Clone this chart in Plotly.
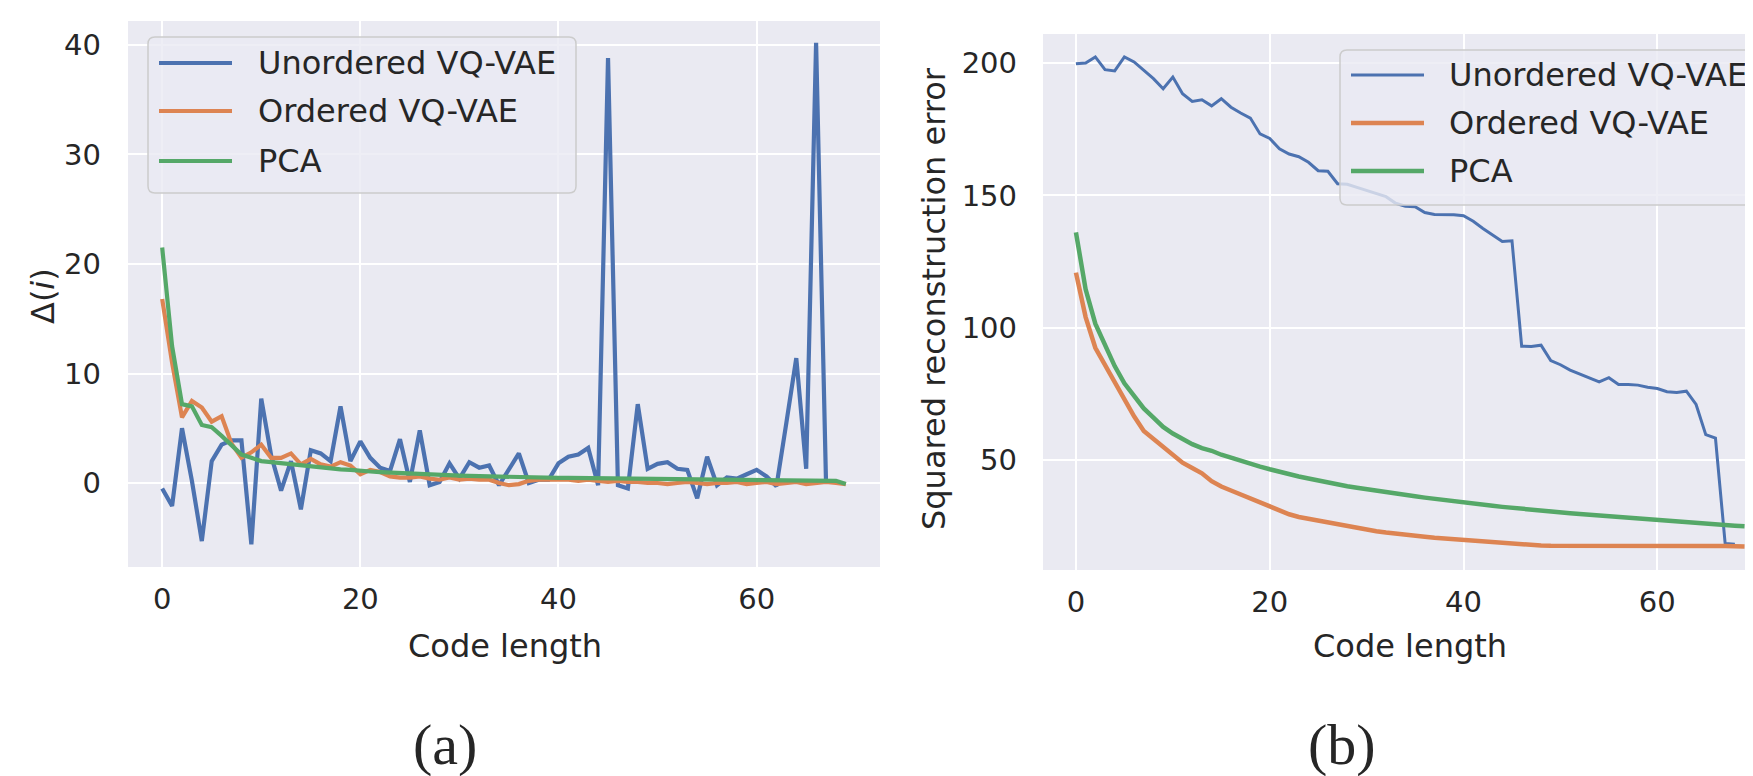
import plotly.graph_objects as go

W, H = 1753, 776

# ---------------- data ----------------
code_length = list(range(70))
code_length_unordered = list(range(68))
code_length_unordered_err = list(range(69))

delta_unordered = [-0.5, -2.1, 5.0, 0.2, -5.3, 2.0, 3.5, 3.9, 3.9, -5.6,
                   7.7, 2.5, -0.7, 2.0, -2.4, 3.0, 2.7, 2.0, 7.0, 2.0,
                   3.8, 2.3, 1.4, 1.1, 4.0, 0.1, 4.8, -0.2, 0.1, 1.8,
                   0.4, 1.9, 1.4, 1.6, -0.2, 1.3, 2.7, 0.0, 0.3, 0.3,
                   1.8, 2.4, 2.6, 3.2, -0.2, 38.8, -0.2, -0.5, 7.2, 1.3,
                   1.75, 1.9, 1.3, 1.2, -1.4, 2.4, -0.2, 0.5, 0.4, 0.8,
                   1.2, 0.6, -0.3, 5.5, 11.4, 1.3, 40.2, 0.1]

delta_ordered = [16.8, 11.0, 6.0, 7.5, 6.9, 5.6, 6.1, 3.6, 2.3, 2.8,
                 3.5, 2.3, 2.3, 2.7, 1.7, 2.2, 1.7, 1.5, 1.9, 1.6,
                 0.8, 1.2, 1.0, 0.6, 0.5, 0.5, 0.6, 0.4, 0.3, 0.5,
                 0.3, 0.4, 0.3, 0.3, 0.0, -0.2, -0.1, 0.2, 0.3, 0.3,
                 0.3, 0.3, 0.2, 0.3, 0.2, 0.1, 0.2, 0.1, 0.1, 0.0,
                 0.0, -0.1, 0.0, 0.1, 0.0, -0.1, 0.0, 0.0, 0.1, -0.1,
                 0.0, 0.1, -0.1, 0.0, 0.1, -0.1, 0.0, 0.1, 0.0, -0.1]

delta_pca = [21.5, 12.5, 7.2, 7.0, 5.3, 5.1, 4.3, 3.4, 2.6, 2.3,
             2.0, 1.9, 1.8, 1.7, 1.6, 1.5, 1.4, 1.3, 1.25, 1.2,
             1.1, 1.05, 1.0, 0.95, 0.9, 0.85, 0.8, 0.78, 0.75, 0.7,
             0.68, 0.65, 0.62, 0.6, 0.58, 0.55, 0.53, 0.52, 0.5, 0.49,
             0.47, 0.46, 0.45, 0.44, 0.43, 0.42, 0.41, 0.4, 0.39, 0.38,
             0.37, 0.36, 0.35, 0.35, 0.34, 0.33, 0.32, 0.32, 0.31, 0.3,
             0.3, 0.29, 0.28, 0.28, 0.27, 0.26, 0.26, 0.25, 0.2, -0.1]

err_unordered = [199.7, 200.0, 202.3, 197.5, 197.0, 202.3, 200.4, 197.2, 194.1, 190.3,
                 194.7, 188.4, 185.5, 186.1, 183.8, 186.5, 183.3, 181.1, 179.2, 173.2,
                 171.5, 167.6, 165.6, 164.6, 162.5, 159.3, 159.1, 154.4, 154.2, 153.0,
                 151.8, 150.8, 149.5, 147.0, 145.9, 145.7, 143.5, 142.8, 142.7, 142.7,
                 142.3, 140.2, 137.5, 135.0, 132.6, 132.8, 93.0, 92.9, 93.4, 87.6,
                 86.0, 84.0, 82.5, 80.8, 79.5, 81.1, 78.5, 78.5, 78.3, 77.5,
                 77.0, 75.8, 75.5, 76.0, 71.0, 59.6, 58.3, 18.5, 18.2]

err_ordered = [120.8, 104.0, 92.4, 86.0, 79.0, 73.0, 66.5, 61.0, 58.0, 55.0,
               52.0, 49.0, 47.0, 45.0, 42.0, 40.0, 38.5, 37.0, 35.5, 34.0,
               32.3, 31.0, 29.5, 28.5, 27.8, 27.0, 26.3, 25.5, 24.9, 24.3,
               23.7, 23.1, 22.6, 22.1, 21.7, 21.4, 21.0, 20.6, 20.3, 20.0,
               19.7, 19.4, 19.1, 18.8, 18.5, 18.3, 18.0, 17.8, 17.7, 17.6,
               17.6, 17.6, 17.5, 17.6, 17.6, 17.7, 17.6, 17.7, 17.8, 17.8,
               17.9, 17.8, 17.8, 17.7, 17.6, 17.6, 17.5, 17.5, 17.4, 17.3]

err_pca = [136.0, 114.5, 101.5, 93.0, 85.5, 79.0, 74.0, 69.5, 66.0, 62.5,
           60.0, 57.8, 56.0, 54.5, 53.5, 52.0, 50.8, 49.7, 48.6, 47.5,
           46.5, 45.5, 44.6, 43.8, 43.0, 42.2, 41.4, 40.8, 40.1, 39.5,
           38.9, 38.3, 37.8, 37.3, 36.8, 36.3, 35.8, 35.3, 34.8, 34.3,
           33.9, 33.5, 33.1, 32.7, 32.3, 31.9, 31.6, 31.2, 30.9, 30.5,
           30.2, 29.9, 29.6, 29.3, 29.0, 28.7, 28.4, 28.1, 27.8, 27.6,
           27.3, 27.1, 26.8, 26.5, 26.3, 26.0, 25.8, 25.5, 25.2, 25.0]

series_names = ["Unordered VQ-VAE", "Ordered VQ-VAE", "PCA"]
x_ticks = [0, 20, 40, 60]
y_ticks_a = [0, 10, 20, 30, 40]
y_ticks_b = [50, 100, 150, 200]

# ---------------- style ----------------
BLUE, ORANGE, GREEN = "#4C72B0", "#DD8452", "#55A868"
BG = "#EAEAF2"
TXT = "#262626"
SANS = "DejaVu Sans"
SERIF = "Liberation Serif, Times New Roman, serif"


def px(x):
    return x / W


def py(y):
    return 1 - y / H


fig = go.Figure()

# panel (a)
for name, ys, col in zip(series_names,
                         [delta_unordered, delta_ordered, delta_pca],
                         [BLUE, ORANGE, GREEN]):
    xs = code_length_unordered if ys is delta_unordered else code_length
    fig.add_trace(go.Scatter(x=xs, y=ys, mode="lines", name=name,
                             line=dict(color=col, width=4.2),
                             xaxis="x", yaxis="y", showlegend=False))

# panel (b)
for name, ys, col, wd in zip(series_names,
                             [err_unordered, err_ordered, err_pca],
                             [BLUE, ORANGE, GREEN], [3.0, 4.5, 4.5]):
    xs = code_length_unordered_err if ys is err_unordered else code_length
    fig.add_trace(go.Scatter(x=xs, y=ys, mode="lines", name=name,
                             line=dict(color=col, width=wd),
                             xaxis="x2", yaxis="y2", showlegend=False))

axis_common = dict(showgrid=True, gridcolor="white", gridwidth=2,
                   zeroline=False, showline=False, ticks="",
                   tickfont=dict(family=SANS, size=29, color=TXT))

fig.update_layout(
    width=W, height=H,
    margin=dict(l=0, r=0, t=0, b=0),
    paper_bgcolor="white", plot_bgcolor=BG,
    xaxis=dict(domain=[px(120), px(872)], range=[-3.45, 72.45],
               tickvals=x_ticks, anchor="y", ticklabelstandoff=12, **axis_common),
    yaxis=dict(domain=[py(559), py(13)], range=[-7.67, 42.19],
               tickvals=y_ticks_a, anchor="x", ticklabelstandoff=26, **axis_common),
    xaxis2=dict(domain=[px(1035), 1.0], range=[-3.4, 70.7],
                tickvals=x_ticks, anchor="y2", ticklabelstandoff=12, **axis_common),
    yaxis2=dict(domain=[py(562), py(26)], range=[8.45, 210.96],
                tickvals=y_ticks_b, anchor="x2", ticklabelstandoff=25, **axis_common),
)

annotations = []
shapes = []


def text(x, y, s, size, family=SANS, angle=0, xanchor="center"):
    annotations.append(dict(x=px(x), y=py(y), xref="paper", yref="paper",
                            text=s, showarrow=False, textangle=angle,
                            xanchor=xanchor, yanchor="middle",
                            font=dict(family=family, size=size, color=TXT)))


# axis titles
text(35, 288, "Δ(<i>i</i>)", 32, angle=-90)
text(926, 290, "Squared reconstruction error", 32, angle=-90)
text(497, 638, "Code length", 32)
text(1402, 638, "Code length", 32)
# panel captions
text(437, 736, "(a)", 58, family=SERIF)
text(1334, 736, "(b)", 58, family=SERIF)


def rounded_box(x0, y0, x1, y1, r=7):
    X = lambda v: px(v)
    Y = lambda v: py(v)
    p = (f"M {X(x0 + r)},{Y(y0)} L {X(x1 - r)},{Y(y0)} Q {X(x1)},{Y(y0)} {X(x1)},{Y(y0 + r)} "
         f"L {X(x1)},{Y(y1 - r)} Q {X(x1)},{Y(y1)} {X(x1 - r)},{Y(y1)} "
         f"L {X(x0 + r)},{Y(y1)} Q {X(x0)},{Y(y1)} {X(x0)},{Y(y1 - r)} "
         f"L {X(x0)},{Y(y0 + r)} Q {X(x0)},{Y(y0)} {X(x0 + r)},{Y(y0)} Z")
    shapes.append(dict(type="path", path=p, xref="paper", yref="paper",
                       fillcolor="rgba(234,234,242,0.8)",
                       line=dict(color="#CCCCCC", width=1.5), layer="above"))


def legend(box, line_x0, line_x1, text_x, rows, widths):
    rounded_box(*box)
    for name, col, yy, wd in zip(series_names, [BLUE, ORANGE, GREEN], rows, widths):
        shapes.append(dict(type="line", xref="paper", yref="paper",
                           x0=px(line_x0), x1=px(line_x1), y0=py(yy), y1=py(yy),
                           line=dict(color=col, width=wd), layer="above"))
        text(text_x, yy, name, 32, xanchor="left")


legend((140, 29, 568, 185), 151, 224, 248, [55, 103, 153], [4.2, 4.2, 4.2])
legend((1332, 42, 1760, 197), 1343, 1416, 1439, [67, 115, 163], [3.0, 4.5, 4.5])

fig.update_layout(annotations=annotations, shapes=shapes)

fig.write_html("out.html")
